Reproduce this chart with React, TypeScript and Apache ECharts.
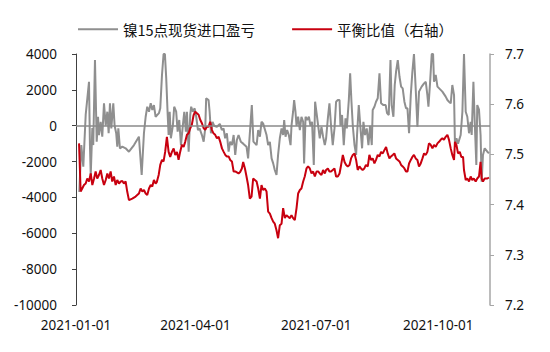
import React, { useEffect, useRef } from "react";
import * as echarts from "echarts";

// Day offsets counted from 2021-01-01
const startDate = "2021-01-01";
const tickLabels = ["2021-01-01", "2021-04-01", "2021-07-01", "2021-10-01"];
const seriesNames = ["镍15点现货进口盈亏", "平衡比值（右轴）"];

const grayDays = [2.5,4.0,5.5,7.3,9.8,10.5,11.1,12.3,13.0,14.3,15.6,16.6,17.3,18.6,19.8,21.1,22.4,23.6,24.6,25.6,26.6,28.1,29.1,30.3,31.1,31.9,33.1,34.9,37.4,39.9,43.7,47.4,49.5,51.2,52.5,53.7,55.0,56.3,57.5,58.7,60.0,62.5,63.5,64.8,66.0,67.0,68.0,69.1,69.8,70.6,71.5,73.0,74.0,75.5,76.6,77.8,79.1,80.3,81.6,82.8,83.6,84.9,86.1,86.8,88.1,89.4,90.6,91.9,93.1,94.9,96.2,97.4,98.1,99.9,100.7,101.7,102.9,104.1,106.2,108.4,109.9,111.2,112.4,113.7,115.0,116.2,117.5,118.8,120.0,121.2,122.5,124.2,126.0,128.5,129.7,132.5,133.7,136.1,137.3,138.6,139.8,141.0,142.3,143.6,144.8,146.1,147.4,148.6,149.8,151.1,152.3,153.6,154.9,156.1,156.9,157.9,159.1,160.4,161.7,162.4,163.6,164.4,165.4,166.2,167.4,168.7,169.9,171.2,171.9,173.0,174.2,175.5,176.7,177.9,179.2,180.2,181.3,182.5,183.7,185.0,186.2,187.5,188.5,189.8,191.0,192.2,193.5,194.8,196.0,197.3,198.6,199.3,200.5,201.8,203.1,204.1,205.6,206.6,207.6,208.6,209.9,211.1,211.8,213.1,214.4,215.6,216.6,217.8,219.1,220.4,221.6,222.9,223.6,224.9,226.1,227.4,228.7,229.9,231.7,233.4,234.4,235.7,237.0,237.9,239.2,240.2,241.2,242.5,243.8,245.0,246.2,247.5,248.7,249.8,251.0,252.3,253.5,254.7,256.0,257.3,258.5,260.5,262.3,263.6,264.8,265.6,266.8,268.1,269.1,269.8,271.1,272.4,276.1,278.6,279.9,281.1,282.4,283.6,284.9,285.6,286.7,287.9,289.9,291.2,292.4,293.7,294.9,296.2,297.4,298.2,299.5,300.5,301.7,302.4,303.7,304.9,305.7,306.7,308.0,310.0,311.2];
const grayValues = [-3700,-1080,-2290,600,2450,-1080,-2750,-130,-1080,3660,-890,500,-520,220,-610,1250,0,780,-420,1250,-150,1250,0,-420,-1170,-150,-1260,-1170,-1260,-1450,-1080,-610,-2750,-420,500,1060,780,1250,880,1150,500,700,970,2830,4000,4000,2640,600,-520,780,-700,0,1060,780,-330,320,-1080,-150,780,-330,780,-1450,600,1060,780,970,500,-240,-150,-520,-890,-150,1530,1430,780,-420,220,0,-60,100,-240,-150,-700,-420,-1450,-890,-1080,-520,-1630,-800,-520,-890,-1000,-1170,-1820,1150,-890,-1080,-240,-610,220,130,-200,-520,-1080,-900,-1820,-2100,-2470,-2750,-1630,-700,-150,-520,320,-610,-240,-520,-1080,0,780,1430,780,0,500,-240,500,220,-2100,500,320,500,0,220,-2190,1340,700,0,-700,-60,-610,-1080,-700,410,1250,0,-1080,-150,1340,1430,1430,0,600,-1080,410,-150,1430,2920,1340,0,-1080,-1630,-520,1150,-150,-1260,220,-520,-150,-1080,0,-1080,880,1060,1340,1530,2920,1250,1150,1150,700,600,3660,1150,500,2270,3010,3660,2730,2180,2080,1340,970,970,-420,1710,3010,4000,2080,-60,1900,2180,2360,2450,1710,1060,2360,4000,4000,2450,2830,2180,1900,1620,1430,1340,1250,2270,1710,-1080,-700,-1000,-520,780,4000,780,500,-420,220,-520,2450,200,-2190,1150,900,-520,-3120,-1630,-1260,-1450,-1540];

const redDays = [2.3,3.5,4.7,6.0,7.3,8.5,9.8,11.1,12.3,13.6,14.8,16.0,17.3,18.6,19.8,21.1,22.4,23.6,24.8,26.1,27.3,28.6,29.9,31.1,32.4,33.7,34.9,36.1,37.4,38.6,39.9,42.4,44.9,47.4,48.7,50.0,51.2,52.5,53.7,55.0,56.3,57.5,58.7,60.0,60.9,62.3,63.5,64.8,66.0,67.2,68.5,69.8,71.0,72.3,73.6,74.8,76.1,77.3,78.5,79.8,81.1,82.3,83.6,84.9,86.1,87.3,88.6,89.8,91.1,92.4,93.6,94.9,96.2,97.4,98.6,99.9,101.1,102.4,103.6,104.9,106.2,107.5,108.7,110.0,111.3,112.5,113.7,115.0,116.2,117.5,118.8,120.0,122.5,123.7,125.0,126.0,127.3,128.5,129.7,131.0,132.3,133.5,134.8,136.1,137.3,138.6,139.8,141.0,142.3,143.6,144.8,146.1,147.4,148.6,149.8,151.1,152.3,153.6,154.9,156.1,157.4,158.6,159.9,161.1,162.4,163.6,164.9,166.2,167.4,168.7,169.9,171.2,172.4,173.7,174.9,176.2,177.5,178.7,180.0,181.3,182.5,183.7,185.0,186.2,187.5,188.5,189.8,191.0,192.2,193.5,194.8,196.0,197.3,198.6,199.8,201.1,202.4,203.6,204.8,206.1,207.3,208.6,209.9,211.1,212.3,213.6,214.8,216.0,217.3,218.5,219.9,221.1,222.3,223.6,224.9,226.1,227.4,228.7,229.9,231.2,232.5,233.7,234.9,236.2,237.4,238.7,239.9,241.2,242.5,243.8,245.0,246.2,247.5,248.7,249.8,251.0,252.3,253.5,254.7,256.0,257.3,258.5,259.8,261.1,262.3,263.6,264.8,266.0,267.3,268.6,269.8,271.1,272.4,273.6,274.8,276.1,277.3,278.6,279.9,281.1,282.4,283.6,284.9,285.6,286.7,287.9,289.2,290.4,291.7,292.4,293.7,294.9,296.2,297.4,298.6,299.8,301.2,302.4,303.7,304.9,305.7,306.7,308.0,310.0,311.2];
const redValues = [7.522,7.426,7.432,7.439,7.442,7.452,7.446,7.462,7.439,7.452,7.466,7.452,7.459,7.469,7.452,7.439,7.449,7.462,7.452,7.466,7.446,7.456,7.439,7.449,7.442,7.446,7.447,7.442,7.446,7.426,7.409,7.412,7.416,7.422,7.432,7.426,7.429,7.422,7.419,7.432,7.439,7.436,7.449,7.442,7.445,7.459,7.479,7.489,7.486,7.505,7.535,7.505,7.495,7.505,7.512,7.499,7.505,7.489,7.505,7.519,7.515,7.525,7.539,7.542,7.552,7.559,7.578,7.585,7.582,7.579,7.569,7.562,7.552,7.549,7.555,7.555,7.565,7.549,7.542,7.539,7.532,7.535,7.525,7.512,7.505,7.499,7.496,7.496,7.489,7.486,7.466,7.466,7.462,7.465,7.472,7.485,7.472,7.456,7.439,7.412,7.416,7.452,7.449,7.446,7.432,7.412,7.439,7.429,7.432,7.426,7.386,7.382,7.373,7.366,7.362,7.349,7.333,7.359,7.362,7.393,7.373,7.379,7.376,7.373,7.379,7.373,7.369,7.393,7.422,7.429,7.432,7.446,7.456,7.472,7.476,7.472,7.462,7.466,7.456,7.466,7.466,7.462,7.459,7.469,7.462,7.469,7.472,7.466,7.466,7.469,7.472,7.456,7.456,7.462,7.479,7.499,7.485,7.479,7.476,7.479,7.492,7.499,7.502,7.489,7.469,7.476,7.472,7.469,7.472,7.479,7.476,7.499,7.489,7.492,7.482,7.489,7.499,7.496,7.505,7.502,7.509,7.515,7.502,7.492,7.496,7.499,7.502,7.492,7.489,7.486,7.479,7.476,7.472,7.466,7.466,7.482,7.489,7.495,7.499,7.492,7.489,7.476,7.482,7.492,7.502,7.499,7.505,7.522,7.519,7.512,7.519,7.515,7.522,7.525,7.529,7.532,7.529,7.535,7.539,7.529,7.512,7.499,7.489,7.525,7.519,7.502,7.505,7.495,7.495,7.469,7.449,7.452,7.446,7.456,7.449,7.452,7.446,7.452,7.456,7.485,7.452,7.446,7.452,7.452,7.454];

const DAY = 86400000;
const startMs = Date.parse(startDate + "T00:00:00Z");
const toDay = (s: string) => Math.round((Date.parse(s + "T00:00:00Z") - startMs) / DAY);
const fmtDay = (d: number) => new Date(startMs + Math.round(d) * DAY).toISOString().slice(0, 10);

export default function App() {
  const ref = useRef<HTMLDivElement>(null);
  useEffect(() => {
    if (!ref.current) return;
    const chart = echarts.init(ref.current, null, { renderer: "svg" });
    const gray = "#8f8f8f";
    const red = "#c8000f";
    const labelFont = { fontFamily: "Noto Sans", fontSize: 13.5, color: "#111" };
    chart.setOption({
      animation: false,
      backgroundColor: "#fff",
      grid: { left: 76, right: 60, top: 54, bottom: 47, containLabel: false },
      legend: {
        left: 73,
        top: 17,
        icon: "rect",
        itemWidth: 40,
        itemHeight: 2,
        itemGap: 37,
        textStyle: { fontFamily: "Noto Sans CJK SC", fontSize: 14.5, color: "#111" },
        data: seriesNames,
      },
      xAxis: {
        type: "value",
        min: 0,
        max: 312,
        axisLine: { show: false },
        axisTick: { show: false },
        splitLine: { show: false },
        axisLabel: {
          ...labelFont,
          margin: 13,
          customValues: tickLabels.map(toDay),
          formatter: (v: number) => fmtDay(v),
        },
      },
      yAxis: [
        {
          type: "value",
          min: -10000,
          max: 4000,
          interval: 2000,
          axisLine: { show: true, lineStyle: { color: "#404040", width: 1 } },
          axisTick: { show: true, length: 4, lineStyle: { color: "#404040" } },
          splitLine: { show: false },
          axisLabel: { ...labelFont, margin: 19, formatter: (v: number) => String(v) },
        },
        {
          type: "value",
          min: 7.2,
          max: 7.7,
          interval: 0.1,
          position: "right",
          axisLine: { show: true, lineStyle: { color: "#a6a6a6", width: 1.5 } },
          axisTick: { show: true, length: 4, lineStyle: { color: "#a6a6a6" } },
          splitLine: { show: false },
          axisLabel: { ...labelFont, margin: 15, formatter: (v: number) => v.toFixed(1) },
        },
      ],
      series: [
        {
          name: seriesNames[0],
          type: "line",
          yAxisIndex: 0,
          symbol: "none",
          lineStyle: { color: gray, width: 2 },
          itemStyle: { color: gray },
          data: grayDays.map((d, i) => [d, grayValues[i]]),
          markLine: {
            silent: true,
            symbol: "none",
            label: { show: false },
            lineStyle: { color: "#8a8a8a", width: 1.5, type: "solid" },
            data: [{ yAxis: 0 }],
          },
        },
        {
          name: seriesNames[1],
          type: "line",
          yAxisIndex: 1,
          symbol: "none",
          lineStyle: { color: red, width: 2 },
          itemStyle: { color: red },
          data: redDays.map((d, i) => [d, redValues[i]]),
        },
      ],
    });
    return () => chart.dispose();
  }, []);
  return <div ref={ref} style={{ width: 550, height: 352, margin: -8 }} />;
}
